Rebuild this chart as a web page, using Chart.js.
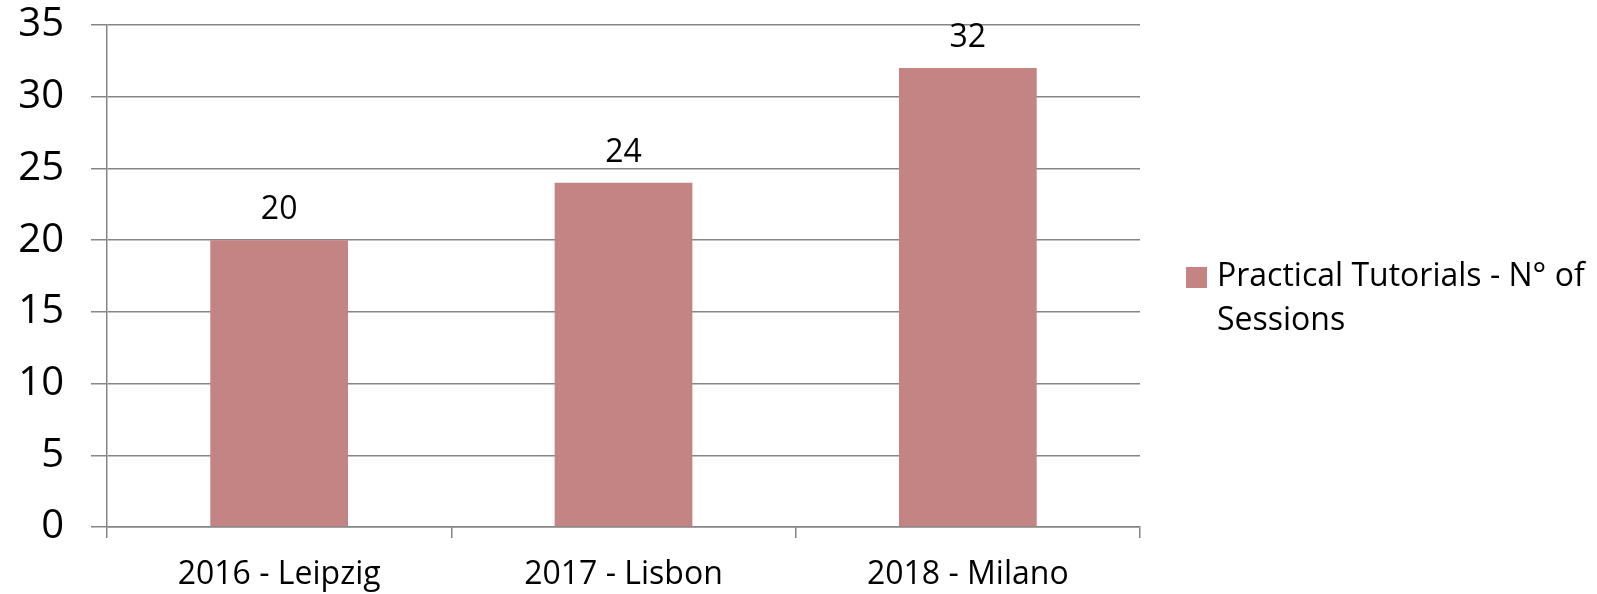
<!DOCTYPE html>
<html>
<head>
<meta charset="utf-8">
<script src="https://cdn.jsdelivr.net/npm/chart.js@4"></script>
<style>
  html, body { margin: 0; padding: 0; background: #fff; }
  #wrap { position: relative; width: 1597px; height: 594px; }
  canvas { position: absolute; left: 0; top: 0; }
  #legend { position: absolute; left: 1186px; top: 252px; font-family: "Open Sans", sans-serif; font-size: 32px; line-height: 44px; color: #000; }
  #legend .box { position: absolute; left: 0; top: 15px; width: 21px; height: 21px; background: #C48484; }
  #legend .txt { position: absolute; left: 31px; top: 0; white-space: nowrap; }
</style>
</head>
<body>
<div id="wrap">
  <canvas id="c" width="1597" height="594"></canvas>
  <div id="legend"><div class="box"></div><div class="txt" id="legendText"></div></div>
</div>
<script>
const categories = ["2016 - Leipzig", "2017 - Lisbon", "2018 - Milano"];
const sessions = [20, 24, 32];
const seriesName = "Practical Tutorials - N° of Sessions";
const legendLines = ["Practical Tutorials - N° of", "Sessions"];
const yTicks = [0, 5, 10, 15, 20, 25, 30, 35];

document.getElementById('legendText').innerHTML = legendLines.join('<br>');

const valueLabels = {
  id: 'valueLabels',
  afterDatasetsDraw(chart) {
    const ctx = chart.ctx;
    ctx.save();
    ctx.font = '32px "Open Sans", sans-serif';
    ctx.fillStyle = '#000';
    ctx.textAlign = 'center';
    ctx.textBaseline = 'alphabetic';
    chart.getDatasetMeta(0).data.forEach((bar, i) => {
      ctx.fillText(String(chart.data.datasets[0].data[i]), bar.x, bar.y - 21);
    });
    ctx.restore();
  }
};

new Chart(document.getElementById('c'), {
  type: 'bar',
  data: {
    labels: categories,
    datasets: [{
      label: seriesName,
      data: sessions,
      backgroundColor: '#C48484',
      borderWidth: 0,
      barPercentage: 1,
      categoryPercentage: 0.4
    }]
  },
  options: {
    responsive: false,
    animation: false,
    devicePixelRatio: 1,
    layout: { padding: { top: 25, right: 457, left: 0, bottom: 0 } },
    plugins: { legend: { display: false }, tooltip: { enabled: false } },
    scales: {
      y: {
        min: 0, max: 35,
        afterBuildTicks(scale) { scale.ticks = yTicks.map(v => ({ value: v })); },
        afterFit(scale) { scale.width = 107; scale.paddingTop = 0; scale.paddingBottom = 0; },
        ticks: { color: '#000', font: { family: '"Open Sans", sans-serif', size: 40 }, padding: 27 },
        grid: { color: '#868686', lineWidth: 1.5, tickLength: 16, drawTicks: true },
        border: { display: true, color: '#868686', width: 1.5 }
      },
      x: {
        afterFit(scale) { scale.height = 67; },
        ticks: { color: '#000', font: { family: '"Open Sans", sans-serif', size: 32 }, padding: 18, maxRotation: 0 },
        grid: { offset: true, drawOnChartArea: false, drawTicks: true, tickLength: 11, color: '#868686', lineWidth: 1.5 },
        border: { display: true, color: '#868686', width: 1.5 }
      }
    }
  },
  plugins: [valueLabels]
});
</script>
</body>
</html>
